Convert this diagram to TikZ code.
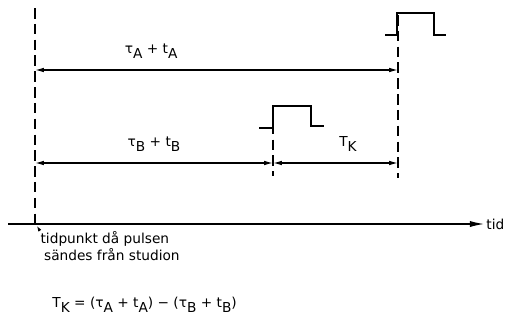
\documentclass[tikz,border=0pt]{standalone}
\usepackage{fontspec}
\setmainfont{DejaVu Sans}
\usetikzlibrary{positioning,arrows.meta}
\newcommand{\lowsub}[1]{\raisebox{-0.6ex}{#1}}

\begin{document}
\begin{tikzpicture}[x=0.02cm, y=-0.02cm, line width=0.7pt,
    font=\fontsize{7.8}{9.8}\selectfont,
    guide/.style={dash pattern=on 6pt off 3pt},
    dim/.style={{Latex[length=5pt,width=2.6pt]}-{Latex[length=5pt,width=2.6pt]}},
    pulse/.style={line width=0.9pt}]
    \useasboundingbox (0,0) rectangle (507,335);

    % Reference points
    \coordinate (s0) at (35,8);
    \coordinate (s1) at (35,224);
    \coordinate (a0) at (398,15);
    \coordinate (a1) at (398,178);
    \coordinate (b0) at (273,108);
    \coordinate (b1) at (273,176);
    \coordinate (aL) at (35,70);
    \coordinate (aR) at (398,70);
    \coordinate (bL) at (35,163);
    \coordinate (bM) at (273,163);
    \coordinate (bR) at (398,163);
    \coordinate (ax0) at (8,224);
    \coordinate (ax1) at (484,224);

    % Guide lines
    \draw[guide] (s0) -- (s1);
    \draw[guide] (a0) -- (a1);
    \draw[guide] (b0) -- (b1);

    % Pulses
    \draw[pulse] (385,35) -| (397,13) -| (434,35) -- (446,35);
    \draw[pulse] (259,128) -| (273,106) -| (311,126) -- (324,126);

    % Delays
    \draw[dim] (aL) -- node[above=3pt, pos=0.32] (la) {τ\lowsub{A} + t\lowsub{A}} (aR);
    \draw[dim] (bL) -- node[above=3pt] (lb) {τ\lowsub{B} + t\lowsub{B}} (bM);
    \draw[dim] (bM) -- node[above=3pt, pos=0.6] (lk) {T\lowsub{K}} (bR);

    % Time axis
    \draw[-{Latex[length=8pt,width=3.5pt]}] (ax0) -- (ax1) node[right, inner sep=1pt] (tid) {tid};
    \node[anchor=north west, align=left, inner sep=0pt] (send) at (40,231)
        {tidpunkt då pulsen\\\hspace{2pt}sändes från studion};
    \draw[-{Latex[length=3pt,width=2pt]}, line width=0.5pt] (send.north west) -- ++(-3,-5);

    % Result
    \node[anchor=west] (res) at (46,305)
        {T\lowsub{K} = (τ\lowsub{A} + t\lowsub{A}) − (τ\lowsub{B} + t\lowsub{B})};
\end{tikzpicture}
\end{document}
